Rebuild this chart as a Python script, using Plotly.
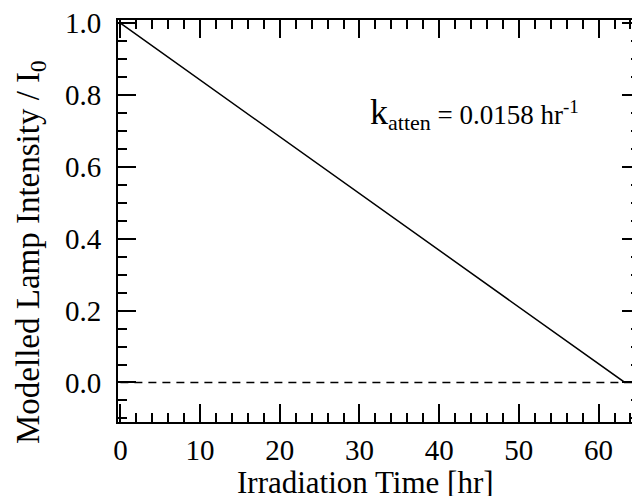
import plotly.graph_objects as go

k_atten = 0.0158
t_line = [0.0, 1.0 / k_atten, 65.2]
i_line = [1.0, 0.0, 0.0]
t_zero = [0.0, 1.0 / k_atten]
i_zero = [0.0, 0.0]

FONT = "Liberation Serif"

# the page adds an 8px body margin, so the figure is sized to fill 640x496 from (8,8)
W, H = 632, 488
L, R, T, B = 110, 0, 12, 74
PW, PH = W - L - R, H - T - B

fig = go.Figure()
fig.add_trace(go.Scatter(x=t_zero, y=i_zero, mode="lines",
                         line=dict(color="black", width=1.3, dash="8px,6px"),
                         showlegend=False))
fig.add_trace(go.Scatter(x=t_line, y=i_line, mode="lines",
                         line=dict(color="black", width=1.5),
                         showlegend=False))

# k annotation
fig.add_annotation(x=(474 - 8 - L) / PW, y=1 - (114 - 8 - T) / PH, xref="paper", yref="paper",
                   text="<span style='font-size:36px'>k</span><sub><span style='font-size:22px'>atten</span></sub>"
                        " = 0.0158 hr<sup><span style='font-size:19px'>-1</span></sup>",
                   showarrow=False, xanchor="center", yanchor="middle",
                   font=dict(family=FONT, size=27, color="black"))

# axis titles
fig.add_annotation(x=(365 - 8 - L) / PW, y=0, xref="paper", yref="paper",
                   yshift=-(482 - 8 - (T + PH)), xanchor="center", yanchor="middle",
                   text="Irradiation Time [hr]", showarrow=False,
                   font=dict(family=FONT, size=31, color="black"))
fig.add_annotation(x=0, y=1 - (252 - 8 - T) / PH, xref="paper", yref="paper",
                   xshift=-(L - (30 - 8)), xanchor="center", yanchor="middle", textangle=-90,
                   text="Modelled Lamp Intensity / I<sub>0</sub>", showarrow=False,
                   font=dict(family=FONT, size=33, color="black"))

axis_common = dict(
    showgrid=False, zeroline=False, showline=True, linecolor="black", linewidth=2,
    ticks="inside", ticklen=18, tickwidth=1.5, tickcolor="black", mirror="ticks",
    tickfont=dict(family=FONT, size=29, color="black"),
    ticklabeloverflow="allow",
)

fig.update_xaxes(range=[-0.3, 65.2], tick0=0, dtick=10,
                 minor=dict(ticks="inside", ticklen=9, dtick=2, tick0=0, tickcolor="black", tickwidth=1.5),
                 ticklabelstandoff=1,
                 **axis_common)
fig.update_yaxes(range=[-0.11, 1.009], tick0=0, dtick=0.2, tickformat=".1f",
                 minor=dict(ticks="inside", ticklen=9, dtick=0.05, tick0=0, tickcolor="black", tickwidth=1.5),
                 ticklabelstandoff=9,
                 **axis_common)

fig.update_layout(width=W, height=H, margin=dict(l=L, r=R, t=T, b=B, autoexpand=False),
                  plot_bgcolor="white", paper_bgcolor="white")

fig.write_html("out.html")
